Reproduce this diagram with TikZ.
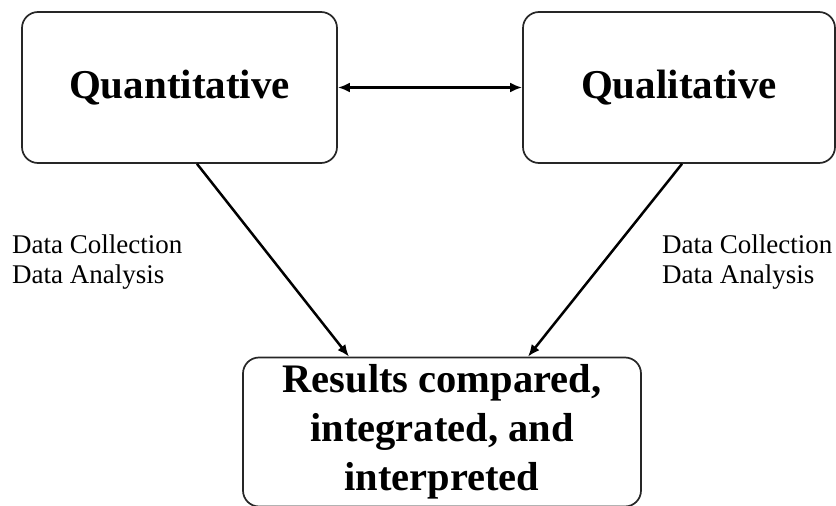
\documentclass[tikz,border=0pt]{standalone}
\usepackage{fontspec}
\setmainfont{Liberation Serif}
\usetikzlibrary{arrows.meta}
\tikzset{
  box/.style={draw=black!85, line width=1.7pt, rounded corners=16pt, inner sep=0pt, align=center,
    font=\bfseries\fontsize{41}{48}\selectfont},
  lab/.style={inner sep=0pt, align=left, anchor=north west, font=\fontsize{27}{30}\selectfont},
  tip/.style={Latex[length=12pt,width=10pt]},
  conn/.style={line width=2.5pt, -{Latex[length=12pt,width=10pt]}},
}
\begin{document}
\begin{tikzpicture}[x=1pt,y=-1pt]
\useasboundingbox (0,0) rectangle (836,506);
\clip (0,0) rectangle (836,506);
\fill[white] (0,0) rectangle (836,506);
\node[box, minimum width=315pt, minimum height=151pt] (quan) at (179.5,87.5) {Quantitative};
\node[box, minimum width=312pt, minimum height=151pt] (qual) at (679,87.5) {Qualitative};
\node[box, minimum width=398pt, minimum height=149pt, font=\bfseries\fontsize{40.5}{49}\selectfont] (res) at (442,432) {Results compared,\\integrated, and\\interpreted};
\node[lab] (l1) at (12,234.5) {Data Collection\\Data Analysis};
\node[lab] (l2) at (662,234.5) {Data Collection\\Data Analysis};
\draw[line width=2.5pt, {Latex[length=12pt,width=10pt]}-{Latex[length=12pt,width=10pt]}] (quan.east) -- (qual.west);
\draw[conn] ([xshift=17.5pt]quan.south) -- ([xshift=-93pt]res.north);
\draw[conn] ([xshift=3pt]qual.south) -- ([xshift=86pt]res.north);
\end{tikzpicture}
\end{document}
